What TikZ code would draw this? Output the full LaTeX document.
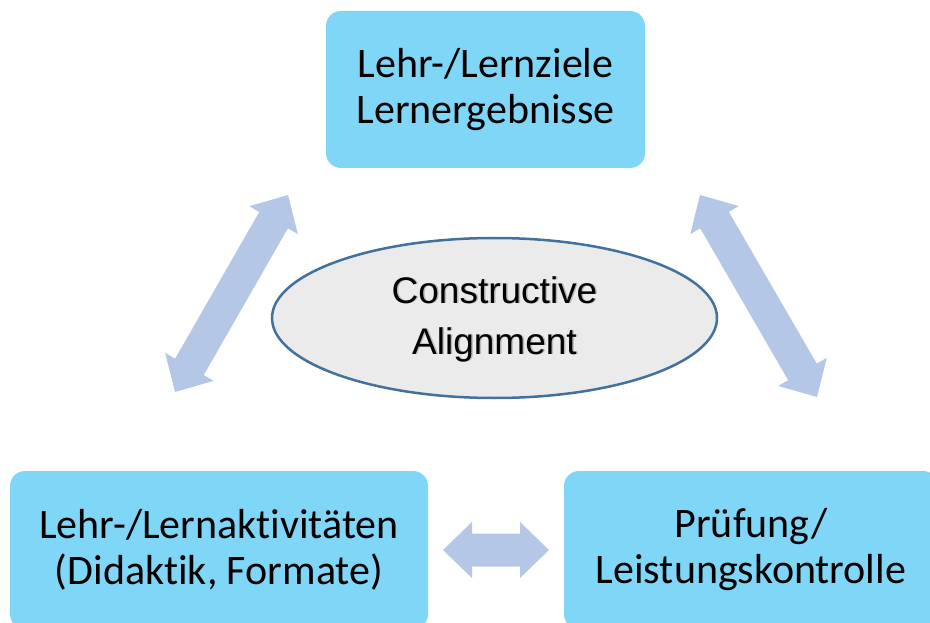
\documentclass[tikz,border=0pt]{standalone}
\usepackage{fontspec}
\usetikzlibrary{calc,shapes.geometric}
\newfontfamily\boxfont[Ligatures=NoCommon]{Carlito}
\newfontfamily\arialfont{Liberation Sans}
\definecolor{boxblue}{HTML}{7FD6F7}
\definecolor{arrowblue}{HTML}{B4C7E7}
\definecolor{ellfill}{HTML}{EBEBEB}
\definecolor{ellline}{HTML}{41719C}
\newcommand\dblarrow[2]{%
  \coordinate (h1) at ($(#1)!29pt!(#2)$);
  \coordinate (h2) at ($(#2)!29pt!(#1)$);
  \fill[arrowblue] (#1) -- ($(h1)!28pt!90:(#1)$) -- ($(h1)!16.5pt!90:(#1)$)
    -- ($(h2)!16.5pt!-90:(#2)$) -- ($(h2)!28pt!-90:(#2)$) -- (#2)
    -- ($(h2)!28pt!90:(#2)$) -- ($(h2)!16.5pt!90:(#2)$)
    -- ($(h1)!16.5pt!-90:(#1)$) -- ($(h1)!28pt!-90:(#1)$) -- cycle;}
\begin{document}
\begin{tikzpicture}[x=1pt,y=-1pt,
  box/.style={fill=boxblue, rounded corners=15pt, inner sep=0pt,
    font=\boxfont\fontsize{42}{46}\selectfont, align=center, text=black},
  catxt/.style={font=\arialfont\fontsize{37}{51}\selectfont, align=center, inner sep=0pt}]
\useasboundingbox (0,0) rectangle (930,623);
\fill[white] (0,0) rectangle (930,623);
% boxes
\node[box, minimum width=319pt, minimum height=157pt] (goals) at (485.5,89.5)
  {Lehr-/Lernziele\\Lernergebnisse};
\node[box, minimum width=418pt, minimum height=158pt] (act) at (219,550)
  {Lehr-/Lernaktivitäten\\(Didaktik, Formate)};
\node[box, minimum width=374pt, minimum height=158pt] (exam) at (751,550)
  {Prüfung/\\Leistungskontrolle};
% ellipse
\node[ellipse, draw=ellline, line width=2.5pt, fill=ellfill,
  minimum width=445pt, minimum height=160pt] (ca) at (494.5,318) {};
\node[catxt, text=gray, opacity=0.45] (cashadow) at ($(ca)+(1.5,1.8)$)
  {Constructive\\Alignment};
\node[catxt] (catext) at ($(ca)+(0,1)$) {Constructive\\Alignment};
% block arrows
\coordinate (la1) at (175,392);
\coordinate (la2) at (288,195);
\coordinate (ra1) at (700,195);
\coordinate (ra2) at (817,397);
\coordinate (ha1) at (443,550);
\coordinate (ha2) at (549,550);
\dblarrow{la1}{la2}
\dblarrow{ra1}{ra2}
\dblarrow{ha1}{ha2}
\end{tikzpicture}
\end{document}
